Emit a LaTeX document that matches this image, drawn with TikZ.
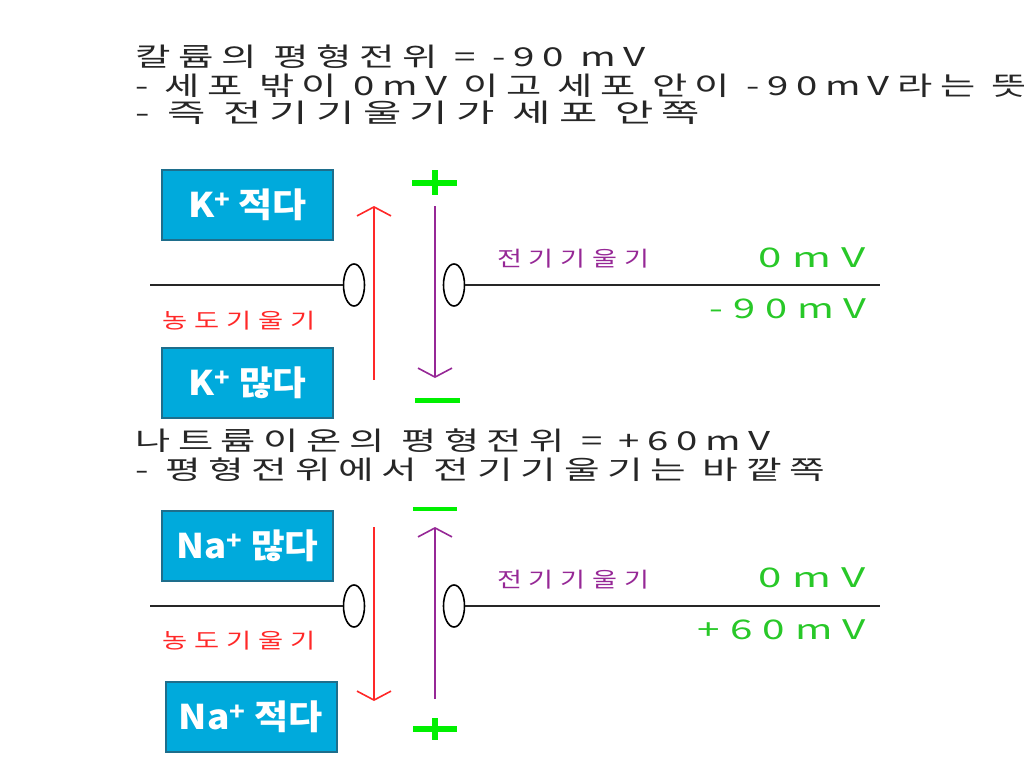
\documentclass[tikz,border=0pt]{standalone}
\usepackage{graphicx}
\usepackage{fontspec}
\usetikzlibrary{arrows.meta,shapes.geometric}
\setmainfont{Noto Sans CJK KR}
\newfontfamily\krt[LetterSpace=20]{Noto Sans CJK KR}
\newfontfamily\krs[LetterSpace=25]{Noto Sans CJK KR}
\newfontfamily\krg[LetterSpace=25]{Noto Sans CJK KR}
\newcommand\fitw[2]{\resizebox{#1}{\height}{#2}}
\definecolor{boxfill}{RGB}{0,170,220}
\definecolor{boxline}{RGB}{30,110,140}
\definecolor{gred}{RGB}{255,40,40}
\definecolor{gpurple}{RGB}{150,40,150}
\definecolor{sgreen}{RGB}{0,240,0}
\definecolor{tgreen}{RGB}{40,200,40}
\tikzset{
  title/.style={anchor=west,inner sep=0pt,font=\krt\fontsize{26}{28}\selectfont,text=black!85},
  ionbox/.style={draw=boxline,line width=2pt,fill=boxfill,minimum width=171pt,minimum height=70pt,inner sep=0pt,text=white,font=\bfseries\fontsize{34}{36}\selectfont},
  chan/.style={ellipse,draw=black,line width=1.6pt,minimum width=21pt,minimum height=42pt,inner sep=0pt},
  memb/.style={draw=black!85,line width=1.4pt},
  grad/.style={line width=2pt,-{Straight Barb[length=9pt,width=34pt,line width=1.6pt]}},
  glabel/.style={anchor=west,inner sep=0pt,font=\krs\fontsize{21}{23}\selectfont},
  vlabel/.style={anchor=east,inner sep=0pt,text=tgreen,font=\krg\fontsize{27}{29}\selectfont},
  sign/.style={fill=sgreen,draw=none}
}
\begin{document}
\begin{tikzpicture}[x=1pt,y=-1pt]
\useasboundingbox (0,0) rectangle (1024,776);
\begin{scope}
\clip (0,0) rectangle (1024,776);
% titles
\node[title] (t1) at (135,57) {\fitw{510pt}{칼륨의 평형전위 = -90 mV}};
\node[title] (t2) at (135,86) {\fitw{892pt}{- 세포 밖이 0mV 이고 세포 안이 -90mV라는 뜻}};
\node[title] (t3) at (135,113) {\fitw{565pt}{- 즉 전기기울기가 세포 안쪽}};
\node[title] (t4) at (135,441) {\fitw{635pt}{나트륨이온의 평형전위 = +60mV}};
\node[title] (t5) at (135,470) {\fitw{690pt}{- 평형전위에서 전기기울기는 바깥쪽}};
\end{scope}

% ---------- potassium ----------
\node[ionbox] (k1) at (247.5,205) {\fitw{119pt}{K\textsuperscript{+} 적다}};
\node[ionbox] (k2) at (247.5,383) {\fitw{118pt}{K\textsuperscript{+} 많다}};
\coordinate (kL) at (150,285);
\coordinate (kR) at (880,285);
\node[chan] (kc1) at (354,285) {};
\node[chan] (kc2) at (454,285) {};
\draw[memb] (kL) -- (kc1.west);
\draw[memb] (kc2.east) -- (kR);
\coordinate (kr1) at (374,380);
\coordinate (kr2) at (374,206);
\draw[grad,gred] (kr1) -- (kr2);
\coordinate (kp1) at (435,206);
\coordinate (kp2) at (435,378);
\draw[grad,gpurple] (kp1) -- (kp2);
\fill[sign] (412,180) rectangle (457,186);
\fill[sign] (432,170) rectangle (438,195);
\fill[sign] (415,398) rectangle (460,403);
\node[glabel,text=gpurple] (ke) at (497,259) {\fitw{152pt}{전기기울기}};
\node[glabel,text=gred] (kn) at (162,321) {\fitw{153pt}{농도기울기}};
\node[vlabel] (k0) at (866,258) {\fitw{107pt}{0mV}};
\node[vlabel] (k9) at (867,309) {\fitw{157pt}{-90mV}};

% ---------- sodium ----------
\node[ionbox] (n1) at (247.5,546) {\fitw{142pt}{Na\textsuperscript{+} 많다}};
\node[ionbox] (n2) at (251,717) {\fitw{144pt}{Na\textsuperscript{+} 적다}};
\coordinate (nL) at (150,606);
\coordinate (nR) at (880,606);
\node[chan] (nc1) at (354,606) {};
\node[chan] (nc2) at (454,606) {};
\draw[memb] (nL) -- (nc1.west);
\draw[memb] (nc2.east) -- (nR);
\coordinate (nr1) at (374,527);
\coordinate (nr2) at (374,701);
\draw[grad,gred] (nr1) -- (nr2);
\coordinate (np1) at (435,699);
\coordinate (np2) at (435,527);
\draw[grad,gpurple] (np1) -- (np2);
\fill[sign] (413,507) rectangle (457,511);
\fill[sign] (413,726) rectangle (457,732);
\fill[sign] (432,718) rectangle (438,740);
\node[glabel,text=gpurple] (ne) at (497,580) {\fitw{152pt}{전기기울기}};
\node[glabel,text=gred] (nn) at (162,641) {\fitw{153pt}{농도기울기}};
\node[vlabel] (n0) at (866,578) {\fitw{107pt}{0mV}};
\node[vlabel] (n6) at (866,630) {\fitw{168pt}{+60mV}};
\end{tikzpicture}
\end{document}
